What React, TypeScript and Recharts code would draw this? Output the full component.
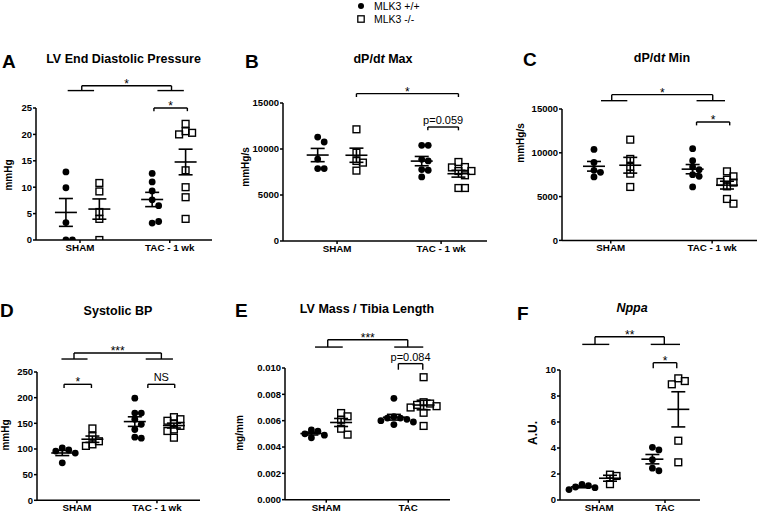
import { ScatterChart, Scatter, XAxis, YAxis, ReferenceLine, ReferenceDot } from 'recharts'

const FONT = '"Liberation Sans", Arial, Helvetica, sans-serif'

// group order everywhere: SHAM +/+, SHAM -/-, TAC +/+, TAC -/-

// A - LV end diastolic pressure (mmHg)
const edpShamWt = [12.9, 9.9, 3.3, 0, 0]
const edpShamKo = [10.8, 9.2, 5.3, 4.0, 0]
const edpTacWt = [12.6, 11.0, 9.3, 7.6, 6.5, 3.2, 3.5]
const edpTacKo = [22.0, 20.6, 20.3, 20.0, 13.2, 10.0, 8.1, 4.0]
const edpTicks = [0, 5, 10, 15, 20, 25]

// B - dP/dt max (mmHg/s)
const maxShamWt = [11300, 10760, 8910, 7870, 7870]
const maxShamKo = [12140, 9600, 8700, 8520, 7650]
const maxTacWt = [10400, 10400, 8880, 8700, 7760, 7690, 6960]
const maxTacKo = [8590, 8040, 8000, 7610, 7610, 7140, 5760, 5760]
const dpTicks = [0, 5000, 10000, 15000]

// C - dP/dt min (mmHg/s)
const minShamWt = [10390, 8900, 8000, 7770, 7240]
const minShamKo = [11500, 9300, 8380, 7620, 6100]
const minTacWt = [10470, 9100, 8380, 8070, 7500, 7310, 6100]
const minTacKo = [7880, 7310, 6930, 6670, 6600, 6170, 4730, 4190]

// D - systolic BP (mmHg)
const bpShamWt = [102, 98, 96, 92, 73]
const bpShamKo = [140, 125, 115, 109, 106]
const bpTacWt = [199, 170, 170, 158, 148, 138, 123, 121]
const bpTacKo = [162, 158, 155, 150, 145, 138, 135, 122]
const bpTicks = [0, 50, 100, 150, 200, 250]

// E - LV mass / tibia length (mg/mm)
const lvShamWt = [0.0053, 0.0052, 0.005, 0.0049, 0.0047]
const lvShamKo = [0.00658, 0.00633, 0.00607, 0.00539, 0.00494]
const lvTacWt = [0.0077, 0.0063, 0.0062, 0.0062, 0.0061, 0.006, 0.0059, 0.0057]
const lvTacKo = [0.0093, 0.0074, 0.0073, 0.0072, 0.0071, 0.007, 0.0066, 0.0056]
const lvTicks = [0, 0.002, 0.004, 0.006, 0.008, 0.01]

// F - Nppa (A.U.)
const nppaShamWt = [1.2, 1.1, 1.0, 0.95, 0.8]
const nppaShamKo = [1.95, 1.85, 1.22]
const nppaTacWt = [4.05, 3.85, 3.1, 2.45, 2.25]
const nppaTacKo = [9.36, 9.15, 8.9, 4.56, 2.9]
const nppaTicks = [0, 2, 4, 6, 8, 10]

const wkLabels = ['SHAM', 'TAC - 1 wk']
const tacLabels = ['SHAM', 'TAC']

type Wide = { kind: 'wide'; s1: number[]; s2: number[]; c1: number; c2: number; y: number; top: number; label: string }
type Pair = { kind: 'pair'; x1: number; x2: number; y: number; drop: number; label: string }

type PanelDef = {
  plot: { x: number; y: number; w: number; h: number }
  yMax: number
  yTicks: number[]
  yFmt: (v: number) => string
  groups: number[][]
  groupX: number[]
  xTicks: number[]
  xLabels: string[]
  brackets: (Wide | Pair)[]
}

const plain = (v: number) => String(v)

const panels: PanelDef[] = [
  {
    plot: { x: 36, y: 108, w: 176, h: 132 },
    yMax: 25, yTicks: edpTicks, yFmt: plain,
    groups: [edpShamWt, edpShamKo, edpTacWt, edpTacKo],
    groupX: [1.7, 3.6, 6.6, 8.5], xTicks: [2.5, 7.6], xLabels: wkLabels,
    brackets: [
      { kind: 'wide', s1: [1.8, 3.3], s2: [6.9, 8.4], c1: 2.6, c2: 7.7, y: 28.3, top: 29.2, label: '*' },
      { kind: 'pair', x1: 6.7, x2: 8.6, y: 25, drop: 24.4, label: '*' },
    ],
  },
  {
    plot: { x: 283, y: 102.7, w: 204, h: 138 },
    yMax: 15000, yTicks: dpTicks, yFmt: plain,
    groups: [maxShamWt, maxShamKo, maxTacWt, maxTacKo],
    groupX: [1.7, 3.6, 6.8, 8.6], xTicks: [2.65, 7.75], xLabels: wkLabels,
    brackets: [
      { kind: 'pair', x1: 3.6, x2: 8.6, y: 16020, drop: 15650, label: '*' },
      { kind: 'pair', x1: 7.1, x2: 8.6, y: 12390, drop: 12030, label: 'p=0.059' },
    ],
  },
  {
    plot: { x: 562, y: 109.3, w: 195, h: 131.4 },
    yMax: 15000, yTicks: dpTicks, yFmt: plain,
    groups: [minShamWt, minShamKo, minTacWt, minTacKo],
    groupX: [1.64, 3.5, 6.7, 8.46], xTicks: [2.5, 7.7], xLabels: wkLabels,
    brackets: [
      { kind: 'wide', s1: [2.0, 3.35], s2: [6.9, 8.36], c1: 2.55, c2: 7.73, y: 15950, top: 16640, label: '*' },
      { kind: 'pair', x1: 6.9, x2: 8.6, y: 13520, drop: 13130, label: '*' },
    ],
  },
  {
    plot: { x: 37.3, y: 371.7, w: 163, h: 128.3 },
    yMax: 250, yTicks: bpTicks, yFmt: plain,
    groups: [bpShamWt, bpShamKo, bpTacWt, bpTacKo],
    groupX: [1.55, 3.4, 6.0, 8.4], xTicks: [2.45, 7.36], xLabels: wkLabels,
    brackets: [
      { kind: 'wide', s1: [1.5, 3.1], s2: [6.67, 8.34], c1: 2.27, c2: 7.63, y: 275.3, top: 287, label: '***' },
      { kind: 'pair', x1: 1.66, x2: 3.34, y: 226, drop: 218.8, label: '*' },
      { kind: 'pair', x1: 6.8, x2: 8.45, y: 226, drop: 218.8, label: 'NS' },
    ],
  },
  {
    plot: { x: 285, y: 368.3, w: 165, h: 131.7 },
    yMax: 0.01, yTicks: lvTicks, yFmt: (v: number) => v.toFixed(3),
    groups: [lvShamWt, lvShamKo, lvTacWt, lvTacKo],
    groupX: [1.6, 3.4, 6.6, 8.4], xTicks: [2.5, 7.47], xLabels: tacLabels,
    brackets: [
      { kind: 'wide', s1: [1.82, 3.5], s2: [6.62, 8.38], c1: 2.59, c2: 7.44, y: 0.01159, top: 0.01215, label: '***' },
      { kind: 'pair', x1: 6.87, x2: 8.35, y: 0.01033, drop: 0.00987, label: 'p=0.084' },
    ],
  },
  {
    plot: { x: 560, y: 370, w: 140, h: 130 },
    yMax: 10, yTicks: nppaTicks, yFmt: plain,
    groups: [nppaShamWt, nppaShamKo, nppaTacWt, nppaTacKo],
    groupX: [1.57, 3.57, 6.6, 8.45], xTicks: [2.8, 7.5], xLabels: tacLabels,
    brackets: [
      { kind: 'wide', s1: [1.59, 3.52], s2: [6.48, 8.57], c1: 2.5, c2: 7.45, y: 11.97, top: 12.56, label: '**' },
      { kind: 'pair', x1: 6.66, x2: 8.34, y: 10.56, drop: 10.13, label: '*' },
    ],
  },
]

// simple beeswarm, like the prism dot plots: center first, then right, then left
function swarm(values: number[], cx: number, pxX: number, pxY: number) {
  const placed: { x: number; y: number }[] = []
  return values.map((v) => {
    const py = v * pxY
    for (let k = 0; k < 30; k++) {
      const off = k === 0 ? 0 : (k % 2 ? 1 : -1) * Math.ceil(k / 2) * 6.5
      if (placed.every((p) => Math.hypot(p.x - off, p.y - py) >= 6)) {
        placed.push({ x: off, y: py })
        return { x: cx + off / pxX, y: v }
      }
    }
    return { x: cx, y: v }
  })
}

function stats(values: number[]) {
  const n = values.length
  const mean = values.reduce((a, b) => a + b, 0) / n
  const sd = Math.sqrt(values.reduce((a, b) => a + (b - mean) ** 2, 0) / (n - 1))
  return { mean, sem: sd / Math.sqrt(n) }
}

const dot = (props: any) => <circle cx={props.cx} cy={props.cy} r={3.4} fill="#000" />
const square = (props: any) => (
  <rect x={props.cx - 3.4} y={props.cy - 3.4} width={6.8} height={6.8} fill="none" stroke="#000" strokeWidth={1.4} />
)

const seg = (key: string, x1: number, y1: number, x2: number, y2: number, w = 1.4) => (
  <ReferenceLine
    key={key}
    segment={[{ x: x1, y: y1 }, { x: x2, y: y2 }]}
    stroke="#000"
    strokeWidth={w}
    ifOverflow="visible"
  />
)

const note = (key: string, x: number, y: number, label: string) => {
  const star = label.startsWith('*')
  return (
    <ReferenceDot
      key={key}
      x={x}
      y={y}
      ifOverflow="visible"
      shape={(pp: any) => (
        <text
          x={pp.cx}
          y={pp.cy + (star ? 2 : -3)}
          textAnchor="middle"
          fontSize={star ? 12 : 11}
          fontFamily={FONT}
          fill="#000"
        >
          {label}
        </text>
      )}
    />
  )
}

function Panel({ p }: { p: PanelDef }) {
  const ml = 40, mt = 60, mr = 10, mb = 30
  const pxX = p.plot.w / 10
  const pxY = p.plot.h / p.yMax
  const series = p.groups.map((vals, i) => swarm(vals, p.groupX[i], pxX, pxY))

  const lines: any[] = []
  p.groups.forEach((vals, i) => {
    const { mean, sem } = stats(vals)
    const gx = p.groupX[i]
    const mw = 11 / pxX, ew = 7 / pxX
    lines.push(seg(`m${i}`, gx - mw, mean, gx + mw, mean, 1.6))
    lines.push(seg(`u${i}`, gx - ew, mean + sem, gx + ew, mean + sem, 1.6))
    lines.push(seg(`l${i}`, gx - ew, mean - sem, gx + ew, mean - sem, 1.6))
    lines.push(seg(`v${i}`, gx, mean - sem, gx, mean + sem, 1.6))
  })

  p.brackets.forEach((b, j) => {
    if (b.kind === 'wide') {
      lines.push(seg(`b${j}a`, b.s1[0], b.y, b.s1[1], b.y))
      lines.push(seg(`b${j}b`, b.s2[0], b.y, b.s2[1], b.y))
      lines.push(seg(`b${j}c`, b.c1, b.y, b.c1, b.top))
      lines.push(seg(`b${j}d`, b.c2, b.y, b.c2, b.top))
      lines.push(seg(`b${j}e`, b.c1, b.top, b.c2, b.top))
      lines.push(note(`b${j}t`, (b.c1 + b.c2) / 2, b.top, b.label))
    } else {
      lines.push(seg(`b${j}a`, b.x1, b.y, b.x2, b.y))
      lines.push(seg(`b${j}b`, b.x1, b.y, b.x1, b.drop))
      lines.push(seg(`b${j}c`, b.x2, b.y, b.x2, b.drop))
      lines.push(note(`b${j}t`, (b.x1 + b.x2) / 2, b.y, b.label))
    }
  })

  const axisStroke = { stroke: '#000', strokeWidth: 1.5 }
  const tickFont = { fill: '#000', fontSize: 9.5, fontWeight: 700, fontFamily: FONT }

  return (
    <div style={{ position: 'absolute', left: p.plot.x - ml, top: p.plot.y - mt }}>
      <ScatterChart
        width={p.plot.w + ml + mr}
        height={p.plot.h + mt + mb}
        margin={{ top: mt, right: mr, bottom: 5, left: 10 }}
      >
        <XAxis
          type="number"
          dataKey="x"
          domain={[0, 10]}
          ticks={p.xTicks}
          interval={0}
          allowDataOverflow
          tickFormatter={(_v: number, i: number) => p.xLabels[i]}
          height={25}
          tickSize={3}
          tickMargin={1}
          axisLine={axisStroke}
          tickLine={axisStroke}
          tick={{ ...tickFont, fontSize: 9.8 }}
        />
        <YAxis
          type="number"
          dataKey="y"
          domain={[0, p.yMax]}
          ticks={p.yTicks}
          interval={0}
          allowDataOverflow
          tickFormatter={p.yFmt}
          width={30}
          tickSize={3}
          tickMargin={1}
          axisLine={axisStroke}
          tickLine={axisStroke}
          tick={tickFont}
        />
        {series.map((pts, i) => (
          <Scatter key={i} data={pts} isAnimationActive={false} shape={i % 2 === 0 ? dot : square} />
        ))}
        {lines}
      </ScatterChart>
    </div>
  )
}

const letters = [
  { t: 'A', x: 2, y: 68 },
  { t: 'B', x: 245, y: 68 },
  { t: 'C', x: 523, y: 66 },
  { t: 'D', x: 0, y: 317 },
  { t: 'E', x: 235, y: 317 },
  { t: 'F', x: 517, y: 320 },
]

const yTitles = [
  { t: 'mmHg', x: 8, y: 175, size: 10 },
  { t: 'mmHg/s', x: 245, y: 167, size: 10 },
  { t: 'mmHg/s', x: 520, y: 143, size: 10 },
  { t: 'mmHg', x: 5, y: 435, size: 10 },
  { t: 'mg/mm', x: 239, y: 433, size: 10 },
  { t: 'A.U.', x: 533, y: 433, size: 12 },
]

export default function App() {
  const titleStyle = { fontFamily: FONT, fontWeight: 700, fontSize: 12.5 }
  return (
    <div style={{ position: 'absolute', left: 0, top: 0, width: 760, height: 514, background: '#fff', overflow: 'hidden' }}>
      <svg width={760} height={514} style={{ position: 'absolute', left: 0, top: 0 }}>
        {letters.map((l) => (
          <text key={l.t} x={l.x} y={l.y} fontFamily={FONT} fontWeight={700} fontSize={19} fill="#000">
            {l.t}
          </text>
        ))}
        <text x={123.5} y={62.7} textAnchor="middle" {...titleStyle}>LV End Diastolic Pressure</text>
        <text x={383} y={63} textAnchor="middle" {...titleStyle}>
          dP/d<tspan fontStyle="italic">t</tspan> Max
        </text>
        <text x={662} y={62} textAnchor="middle" {...titleStyle}>
          dP/d<tspan fontStyle="italic">t</tspan> Min
        </text>
        <text x={118} y={315} textAnchor="middle" {...titleStyle}>Systolic BP</text>
        <text x={367} y={313} textAnchor="middle" {...titleStyle}>LV Mass / Tibia Length</text>
        <text x={632} y={312} textAnchor="middle" {...titleStyle} fontStyle="italic">Nppa</text>
        {yTitles.map((l, i) => (
          <text
            key={i}
            transform={`translate(${l.x},${l.y}) rotate(-90)`}
            textAnchor="middle"
            dominantBaseline="central"
            fontFamily={FONT}
            fontWeight={700}
            fontSize={l.size}
          >
            {l.t}
          </text>
        ))}
        {/* legend */}
        <circle cx={361} cy={6} r={3} fill="#000" />
        <text x={374} y={10} fontFamily={FONT} fontSize={10.5}>MLK3 +/+</text>
        <rect x={357.8} y={15.8} width={6.4} height={6.4} fill="none" stroke="#000" strokeWidth={1.3} />
        <text x={374} y={23} fontFamily={FONT} fontSize={10.5}>MLK3 -/-</text>
      </svg>
      {panels.map((p, i) => (
        <Panel key={i} p={p} />
      ))}
    </div>
  )
}
